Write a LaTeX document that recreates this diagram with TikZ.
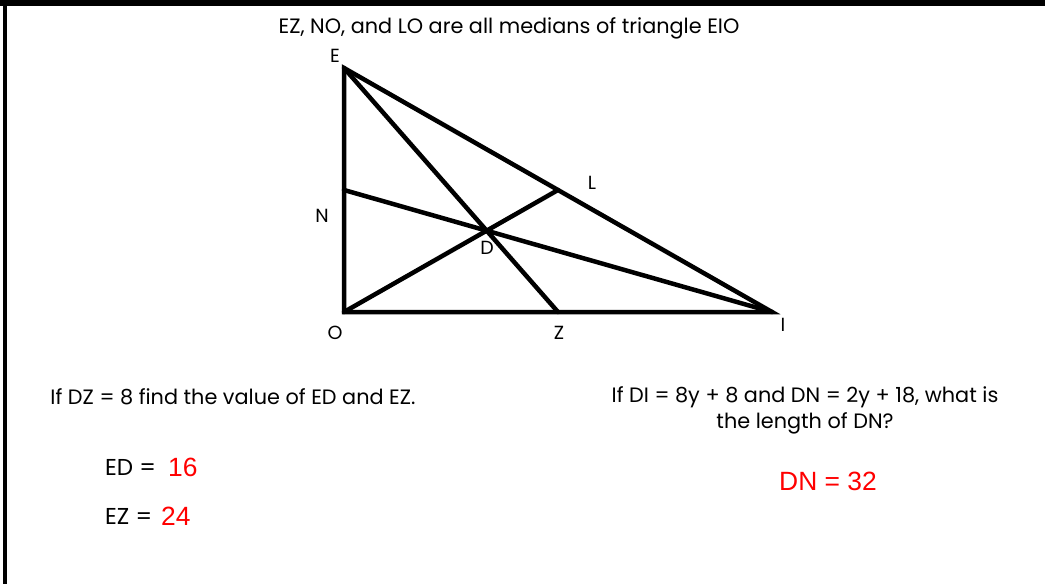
\documentclass[tikz,border=0pt]{standalone}
\usepackage{fontspec}
\setmainfont{Poppins}
\newfontfamily\arialf{Liberation Sans}
\begin{document}
\begin{tikzpicture}[x=1pt,y=-1pt,
  seg/.style={line width=4.5pt,line cap=round,line join=miter},
  lbl/.style={inner sep=0pt,font=\fontsize{19}{21}\selectfont},
  txt/.style={inner sep=0pt,font=\fontsize{20.8}{26}\selectfont},
  big/.style={inner sep=0pt,font=\fontsize{23}{26}\selectfont},
  ans/.style={inner sep=0pt,text=red,font=\arialf\fontsize{26.4}{29}\selectfont}]
\useasboundingbox (0,0) rectangle (1045,584);
\fill[black] (0,0) rectangle (1045,6);
\fill[black] (3,6) rectangle (7,584);
\coordinate (E) at (344,68);
\coordinate (O) at (344,312);
\coordinate (I) at (772,312);
\coordinate (Z) at (558,312);
\coordinate (N) at (344,190);
\coordinate (L) at (558,190);
\coordinate (D) at (486.7,230.7);
\draw[seg] (E) -- (O) -- (I) -- cycle;
\draw[seg] (E) -- (Z);
\draw[seg] (I) -- (N);
\draw[seg] (O) -- (L);
\node[txt] (title) at (509,28) {EZ, NO, and LO are all medians of triangle EIO};
\node[lbl] (lE) at (335,56) {E};
\node[lbl] (lN) at (322,216) {N};
\node[lbl] (lD) at (487,248) {D};
\node[lbl] (lL) at (592,183) {L};
\node[lbl] (lO) at (335,333) {O};
\node[lbl] (lZ) at (559,333) {Z};
\node[lbl] (lI) at (783,325) {I};
\node[txt] (q1) at (233,397) {If DZ = 8 find the value of ED and EZ.};
\node[txt,align=center] (q2) at (805,410) {If DI = 8y + 8 and DN = 2y + 18, what is\\the length of DN?};
\node[big,anchor=west] (ed) at (105,467) {ED =};
\node[ans,anchor=west] (ed16) at (168,467) {16};
\node[big,anchor=west] (ez) at (105,516) {EZ =};
\node[ans,anchor=west] (ez24) at (161,516) {24};
\node[ans] (dn) at (828,481) {DN = 32};
\end{tikzpicture}
\end{document}
